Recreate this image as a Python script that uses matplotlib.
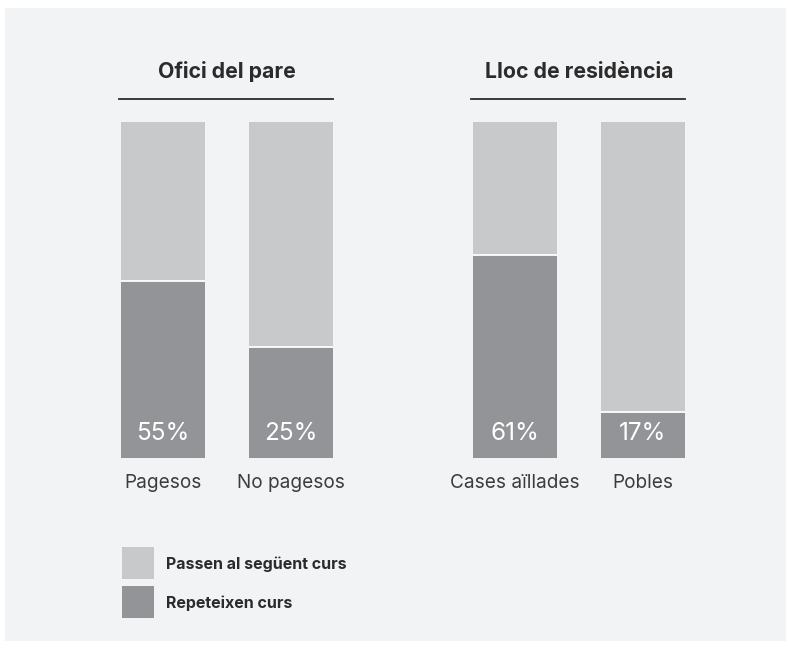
import matplotlib
matplotlib.use("Agg")
import matplotlib.pyplot as plt
from matplotlib.patches import Rectangle
from matplotlib.lines import Line2D
from matplotlib.transforms import ScaledTranslation

# ===== DATA =====
group_titles = ["Ofici del pare", "Lloc de residència"]
categories = ["Pagesos", "No pagesos", "Cases aïllades", "Pobles"]
repeat_labels = [55, 25, 61, 17]          # printed percentages
repeat_height = [52.8, 33.0, 60.3, 13.8]  # bar split as drawn in the picture
legend_labels = ["Passen al següent curs", "Repeteixen curs"]

# ===== STYLE =====
bg_panel = "#f2f3f5"
light = "#c8c9cb"
dark = "#939497"
title_col = "#2b2b2b"
text_col = "#3c3c3c"
W, H = 791, 650

plt.rcParams['font.family'] = ['Inter', 'DejaVu Sans']

fig = plt.figure(figsize=(W / 100, H / 100), dpi=100)
fig.patch.set_facecolor("white")

# pixel (from top-left) -> figure fraction
def px(x, y):
    return x / W, 1 - y / H

# light grey panel behind everything
x0, y0 = px(5, 641)
fig.patches.append(Rectangle((x0, y0), 781 / W, 633 / H, transform=fig.transFigure,
                             facecolor=bg_panel, edgecolor="none", zorder=-10))

# axes: bars span pixel rows 122..458, x unit = 128 px, x=0 at px 163
xpos = [0, 1, 2.75, 3.75]
bar_w = 84 / 128
ax_left, ax_right = 163 - 0.5 * 128, 163 + 4.25 * 128
ax = fig.add_axes([ax_left / W, (H - 458) / H, (ax_right - ax_left) / W, 336 / H])
ax.set_zorder(5)
ax.set_xlim(-0.5, 4.25)
ax.set_ylim(0, 100)
ax.axis("off")

rest = [100 - h for h in repeat_height]
ax.bar(xpos, repeat_height, width=bar_w, color=dark, linewidth=0)
ax.bar(xpos, rest, bottom=repeat_height, width=bar_w, color=light, linewidth=0)
ax.hlines(repeat_height, [x - bar_w / 2 for x in xpos], [x + bar_w / 2 for x in xpos],
          color="white", lw=1.3)

for x, v, cat in zip(xpos, repeat_labels, categories):
    ax.annotate(f"{v}%", (x, 0), xytext=(0, 25), textcoords="offset pixels",
                ha="center", va="center", color="white", fontsize=17.5)
    ax.annotate(cat, (x, 0), xytext=(0, -25), textcoords="offset pixels",
                ha="center", va="center", color=text_col, fontsize=13.7)

# group titles with rule underneath
for g, title in enumerate(group_titles):
    xa, xb = xpos[2 * g], xpos[2 * g + 1]
    xc = (xa + xb) / 2
    ax.annotate(title, (xc, 100), xytext=(0, 50), textcoords="offset pixels",
                ha="center", va="center", color=title_col, fontsize=15.3,
                fontweight="bold", annotation_clip=False)
    ax.add_line(Line2D([xa - bar_w / 2 - 0.015, xb + bar_w / 2], [100, 100],
                       transform=ax.transData + ScaledTranslation(0, 23 / 100, fig.dpi_scale_trans),
                       color=title_col, lw=1.3, clip_on=False))

# legend
for i, (lab, col) in enumerate(zip(legend_labels, [light, dark])):
    top = 547 + i * 39
    lx, ly = px(122, top + 32)
    fig.patches.append(Rectangle((lx, ly), 32 / W, 32 / H, transform=fig.transFigure,
                                 facecolor=col, edgecolor="none"))
    tx, ty = px(166, top + 17)
    fig.text(tx, ty, lab, ha="left", va="center", color=title_col,
             fontsize=11.5, fontweight="bold")

fig.savefig("out.png", dpi=100, facecolor=fig.get_facecolor())
